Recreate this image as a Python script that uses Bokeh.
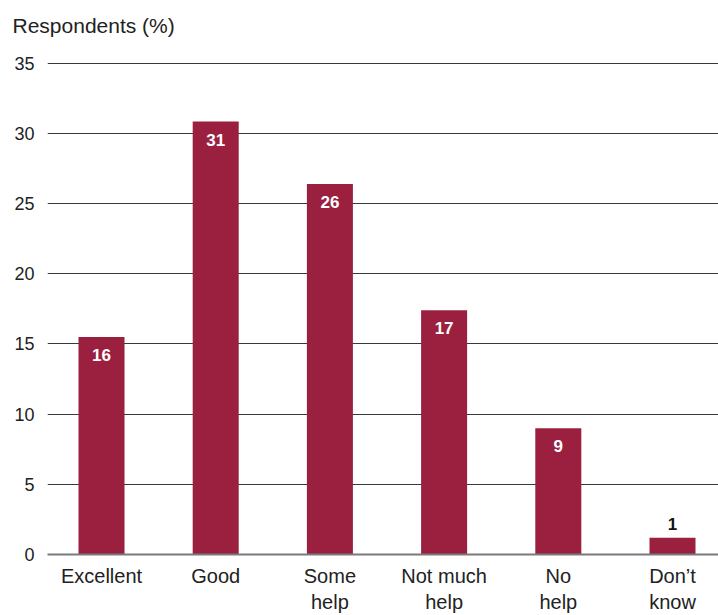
from bokeh.plotting import figure
from bokeh.models import ColumnDataSource, Range1d, FixedTicker, Title
from bokeh.core.properties import value
from bokeh.embed import file_html
from bokeh.resources import INLINE

categories = ["Excellent", "Good", "Some\nhelp", "Not much\nhelp", "No\nhelp", "Don\u2019t\nknow"]
values = [15.5, 30.85, 26.4, 17.4, 9.0, 1.2]
labels = ["16", "31", "26", "17", "9", "1"]
y_ticks = [0, 5, 10, 15, 20, 25, 30, 35]
y_title = "Respondents (%)"

FONT = "Liberation Sans"
BAR = "#9B2040"
TXT = "#222222"

xs = list(range(len(categories)))
inside = [v > 5 for v in values]
src = ColumnDataSource(dict(
    x=xs, top=values, label=labels,
    color=["#FFFFFF" if i else "#111111" for i in inside],
    off=[18 if i else -14 for i in inside],
))

p = figure(width=718, height=615, output_backend="svg", toolbar_location=None,
           x_range=Range1d(-0.4729, 5.4028), y_range=Range1d(0, 35.2),
           min_border_left=47, min_border_right=0, min_border_top=60, min_border_bottom=60)
p.outline_line_color = None
p.background_fill_color = "white"

p.vbar(x="x", top="top", bottom=0, width=0.403, source=src, fill_color=BAR, line_color=None)
p.text(x="x", y="top", text="label", source=src, y_offset="off",
       text_color="color", text_align="center", text_baseline="middle",
       text_font=value(FONT), text_font_size="17px", text_font_style="bold")

# axes
p.xaxis.ticker = FixedTicker(ticks=xs)
p.xaxis.major_label_overrides = {i: c for i, c in enumerate(categories)}
p.xaxis.major_label_text_font = FONT
p.xaxis.major_label_text_font_size = "20px"
p.xaxis.major_label_text_color = TXT
p.xaxis.major_label_text_line_height = 1.2
p.xaxis.major_label_standoff = 10
p.xaxis.major_tick_out = 0
p.xaxis.major_tick_in = 0
p.xaxis.minor_tick_line_color = None
p.xaxis.axis_line_color = "#7a7a7a"
p.xaxis.axis_line_width = 2

p.yaxis.ticker = FixedTicker(ticks=y_ticks)
p.yaxis.major_label_text_font = FONT
p.yaxis.major_label_text_font_size = "18px"
p.yaxis.major_label_text_color = TXT
p.yaxis.major_label_standoff = 13
p.yaxis.major_tick_out = 0
p.yaxis.major_tick_in = 0
p.yaxis.minor_tick_line_color = None
p.yaxis.axis_line_color = None

p.xgrid.grid_line_color = None
p.ygrid.ticker = FixedTicker(ticks=y_ticks[1:])
p.ygrid.grid_line_color = "#3a3a3a"
p.ygrid.grid_line_width = 1
p.ygrid.level = "underlay"

# small spacer between frame and title, pushing the title up
p.add_layout(Title(text=" ", text_font_size="7px"), "above")
p.title = Title(text=y_title, align="left", offset=-35, vertical_align="bottom",
                text_font=FONT, text_font_size="21px", text_font_style="normal",
                text_color=TXT)

open("out.html", "w").write(file_html(p, INLINE))
